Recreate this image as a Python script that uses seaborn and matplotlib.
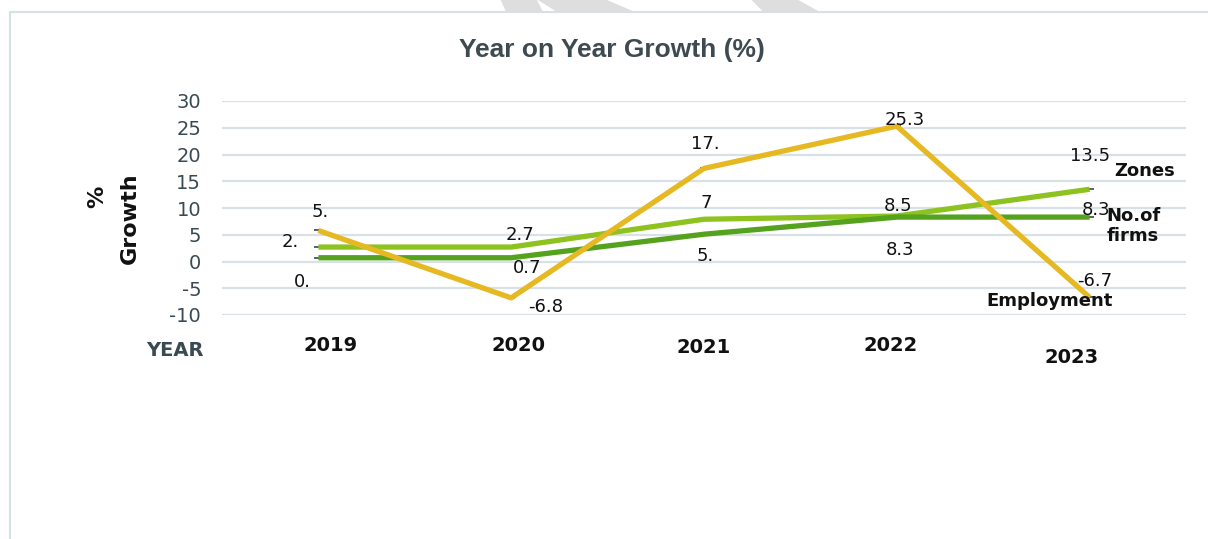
import matplotlib
matplotlib.use("Agg")
import matplotlib.pyplot as plt
import matplotlib.transforms as mtransforms
from matplotlib.patches import Polygon
from matplotlib.lines import Line2D
import seaborn as sns
import pandas as pd

# ---- data ----
years = ["2019", "2020", "2021", "2022", "2023"]
zones = [2.7, 2.7, 7.9, 8.5, 13.5]
firms = [0.7, 0.7, 5.1, 8.3, 8.3]
employment = [5.8, -6.8, 17.4, 25.3, -6.7]
zones_labels = ["2.", "2.7", "7", "8.5", "13.5"]
firms_labels = ["0.", "0.7", "5.", "8.3", "8.3"]
employment_labels = ["5.", "-6.8", "17.", "25.3", "-6.7"]
series_names = ["Zones", "No.of\nfirms", "Employment"]
yticks = [-10, -5, 0, 5, 10, 15, 20, 25, 30]

sns.set_theme(style="white")
plt.rcParams['font.family'] = ['DejaVu Sans']
plt.rcParams['axes.unicode_minus'] = False

W, H = 1208, 539
fig = plt.figure(figsize=(W / 100, H / 100), dpi=100)

def fx(px):
    return px / W

def fy(py):
    return 1 - py / H

# plot area
ax = fig.add_axes([fx(222), fy(315), fx(1186) - fx(222), fy(101) - fy(315)])

df = pd.DataFrame({
    "x": list(range(len(years))) * 3,
    "value": zones + firms + employment,
    "series": ["Zones"] * 5 + ["Firms"] * 5 + ["Employment"] * 5,
})
palette = {"Zones": "#8DC21F", "Firms": "#54A21E", "Employment": "#E6B822"}
sns.lineplot(data=df, x="x", y="value", hue="series", palette=palette,
             hue_order=["Zones", "Firms", "Employment"], linewidth=3.8,
             legend=False, ax=ax, solid_capstyle="butt")

ax.set_xlim(-0.5, 4.5)
ax.set_ylim(-10, 30)
ax.set_yticks(yticks)
ax.yaxis.grid(True, color="#D8E1E5", linewidth=1.6)
ax.set_axisbelow(True)
for s in ax.spines.values():
    s.set_visible(False)
ax.set_xlabel("")
ax.set_ylabel("")
ax.tick_params(axis="y", length=0, pad=15, labelsize=14, labelcolor="#3A4A52")
ax.set_xticks(range(len(years)))
ax.set_xticklabels(years, fontsize=14, fontweight="bold", color="#111111")
ax.tick_params(axis="x", length=0, pad=15)
x_off = [(12, 0), (7, 0), (0, -2), (-6, 0), (-18, -12)]
for lab, (dx, dy) in zip(ax.get_xticklabels(), x_off):
    lab.set_transform(lab.get_transform() +
                      mtransforms.ScaledTranslation(dx / 100, dy / 100, fig.dpi_scale_trans))

# data labels (offsets in pixels)
def put_labels(vals, labels, offs):
    for i, (v, t, (dx, dy)) in enumerate(zip(vals, labels, offs)):
        ax.annotate(t, (i, v), xytext=(dx * 0.72, -dy * 0.72), textcoords="offset points",
                    ha="center", va="center", fontsize=13, color="#111111")

put_labels(employment, employment_labels, [(2, -18), (34, 9), (1, -24), (8, -6), (5, -16)])
put_labels(zones, zones_labels, [(-28, -5), (9, -12), (2, -16), (1, -10), (0, -33)])
put_labels(firms, firms_labels, [(-16, 24), (16, 10), (1, 22), (3, 33), (6, -7)])

# small dark caps at points
for vals in (zones, firms, employment):
    ax.plot(range(len(vals)), vals, linestyle="none", marker="_", markersize=6,
            markeredgewidth=1.2, color="#3A4A52", zorder=1)

# series names
name_style = dict(textcoords="offset points", fontsize=13, fontweight="bold", color="#111111")
ax.annotate(series_names[0], (4, zones[4]), xytext=(55 * 0.72, 18 * 0.72),
            ha="center", va="center", **name_style)
ax.annotate(series_names[1], (4, firms[4]), xytext=(17 * 0.72, -9 * 0.72),
            ha="left", va="center", linespacing=1.1, **name_style)
ax.annotate(series_names[2], (4, employment[4]), xytext=(-40 * 0.72, -4 * 0.72),
            ha="center", va="center", **name_style)

# titles / axis captions
fig.text(fx(612), fy(50), "Year on Year Growth (%)", ha="center", va="center",
         fontsize=19, fontweight="bold", color="#3F4A50", family="Liberation Sans")
fig.text(fx(97), fy(197), "%", rotation=90, ha="center", va="center",
         fontsize=16, fontweight="bold", color="#111111")
fig.text(fx(130), fy(218), "Growth", rotation=90, ha="center", va="center",
         fontsize=16, fontweight="bold", color="#111111")
fig.text(fx(175), fy(350), "YEAR", ha="center", va="center",
         fontsize=14, fontweight="bold", color="#3A4A52")

# frame and watermark fragments
fig.add_artist(Line2D([fx(10), fx(1208)], [fy(12), fy(12)], color="#D6E1E5", linewidth=1.5))
fig.add_artist(Line2D([fx(10), fx(10)], [fy(12), fy(539)], color="#D6E1E5", linewidth=1.5))
wm = [
    [(500.7, 0), (537, 0), (543, 12), (506, 12)],
    [(538, 0), (607, 0), (635, 12), (557, 12)],
    [(751.7, 0), (798.3, 0), (820, 12), (763.3, 12)],
]
for poly in wm:
    fig.add_artist(Polygon([(fx(a), fy(b)) for a, b in poly], closed=True,
                           transform=fig.transFigure, facecolor="#DEDEDE", edgecolor="none"))

fig.savefig("out.png", dpi=100)
